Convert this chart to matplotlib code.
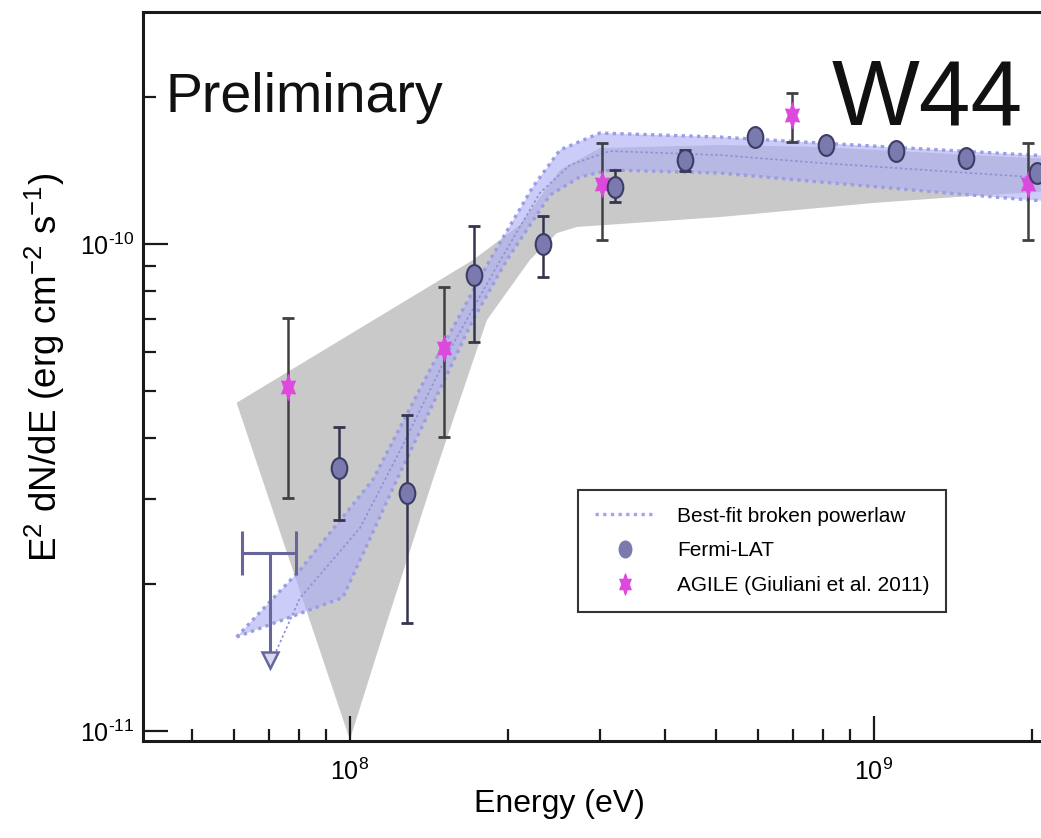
import numpy as np
import matplotlib
matplotlib.use("Agg")
import matplotlib.pyplot as plt
from matplotlib.path import Path
from matplotlib.transforms import Affine2D
from matplotlib.lines import Line2D
from matplotlib.ticker import FixedLocator, NullFormatter, FuncFormatter

# --- data (E in eV, E^2 dN/dE in erg cm^-2 s^-1) ---
fermi_e = [9.53e7, 1.285e8, 1.725e8, 2.34e8, 3.2e8, 4.36e8, 5.93e8, 8.09e8, 1.10e9, 1.50e9, 2.05e9]
fermi_f = [3.47e-11, 3.08e-11, 8.63e-11, 1.0e-10, 1.31e-10, 1.49e-10, 1.66e-10, 1.60e-10, 1.55e-10, 1.50e-10, 1.40e-10]
fermi_hi = [4.21e-11, 4.46e-11, 1.09e-10, 1.14e-10, 1.42e-10, 1.56e-10, 1.66e-10, 1.60e-10, 1.55e-10, 1.50e-10, 1.40e-10]
fermi_lo = [2.71e-11, 1.67e-11, 6.29e-11, 8.56e-11, 1.22e-10, 1.41e-10, 1.66e-10, 1.60e-10, 1.55e-10, 1.50e-10, 1.40e-10]

agile_e = [7.62e7, 1.51e8, 3.03e8, 6.98e8, 1.97e9]
agile_f = [5.08e-11, 6.11e-11, 1.33e-10, 1.84e-10, 1.33e-10]
agile_hi = [7.05e-11, 8.16e-11, 1.61e-10, 2.04e-10, 1.61e-10]
agile_lo = [3.01e-11, 4.02e-11, 1.02e-10, 1.62e-10, 1.02e-10]

# Fermi upper limit in the lowest bin
ul_e, ul_e_lo, ul_e_hi = 7.03e7, 6.22e7, 7.89e7
ul_f, ul_tip = 2.32e-11, 1.40e-11

# best-fit broken powerlaw and its band
fit_e = [7.04e7, 8.03e7, 1.045e8, 1.246e8, 1.551e8, 1.933e8, 2.305e8, 2.630e8, 3.134e8, 5.08e8, 7.89e8, 1.985e9, 2.70e9]
fit_f = [1.366e-11, 1.875e-11, 2.61e-11, 3.76e-11, 6.06e-11, 9.23e-11, 1.273e-10, 1.453e-10, 1.552e-10, 1.523e-10, 1.467e-10, 1.373e-10, 1.353e-10]
band_up_e = [6.08e7, 8.03e7, 1.106e8, 1.421e8, 1.850e8, 2.234e8, 2.517e8, 3.0e8, 5.08e8, 7.89e8, 1.985e9, 2.70e9]
band_up_f = [1.56e-11, 2.14e-11, 3.28e-11, 5.51e-11, 9.27e-11, 1.309e-10, 1.560e-10, 1.690e-10, 1.658e-10, 1.612e-10, 1.523e-10, 1.502e-10]
band_lo_e = [6.08e7, 9.70e7, 1.229e8, 1.717e8, 1.993e8, 2.408e8, 2.747e8, 3.134e8, 5.08e8, 7.89e8, 1.985e9, 2.70e9]
band_lo_f = [1.56e-11, 1.88e-11, 3.28e-11, 6.98e-11, 9.27e-11, 1.260e-10, 1.373e-10, 1.419e-10, 1.399e-10, 1.341e-10, 1.231e-10, 1.208e-10]

# grey band
grey_up_e = [6.08e7, 1.717e8, 2.110e8, 2.517e8, 3.0e8, 5.08e8, 7.89e8, 1.985e9, 2.70e9]
grey_up_f = [4.72e-11, 9.27e-11, 1.094e-10, 1.419e-10, 1.574e-10, 1.597e-10, 1.582e-10, 1.502e-10, 1.474e-10]
grey_lo_e = [1.0e8, 1.192e8, 1.440e8, 1.826e8, 2.205e8, 2.483e8, 2.712e8, 3.47e8, 5.08e8, 9.96e8, 1.440e9, 2.70e9]
grey_lo_f = [9.6e-12, 1.747e-11, 3.28e-11, 6.98e-11, 9.27e-11, 1.053e-10, 1.084e-10, 1.104e-10, 1.136e-10, 1.214e-10, 1.249e-10, 1.303e-10]

x_range = (4.03e7, 3.0e9)
y_range = (9.54e-12, 2.995e-10)
x_major = [1e8, 1e9]
y_major = [1e-11, 1e-10]
x_minor = [5e7, 6e7, 7e7, 8e7, 9e7, 2e8, 3e8, 4e8, 5e8, 6e8, 7e8, 8e8, 9e8, 2e9]
y_minor = [2e-11, 3e-11, 4e-11, 5e-11, 6e-11, 7e-11, 8e-11, 9e-11, 2e-10]

plt.rcParams["font.family"] = ["Liberation Sans", "DejaVu Sans"]
plt.rcParams["mathtext.fontset"] = "custom"
plt.rcParams["mathtext.rm"] = "Liberation Sans"
plt.rcParams["mathtext.it"] = "Liberation Sans:italic"
plt.rcParams["mathtext.bf"] = "Liberation Sans:bold"
plt.rcParams["axes.unicode_minus"] = False

# marker shapes (the picture is a bit squeezed horizontally)
ellipse = Path.unit_circle().transformed(Affine2D().scale(0.75, 1.0))
star6 = Path.unit_regular_star(6, 0.55).transformed(Affine2D().scale(0.62, 1.0))


def decade_label(v, pos):
    n = int(round(np.log10(v)))
    s = str(n).replace("-", "\u2010")
    return "$\\mathdefault{10^{%s}}$" % s


fig = plt.figure(figsize=(10.41, 8.38), dpi=100)
ax = fig.add_axes([143 / 1041, 97 / 838, 981 / 1041, 729 / 838])
ax.set_xscale("log")
ax.set_yscale("log")
ax.set_xlim(*x_range)
ax.set_ylim(*y_range)

# grey band
gx = np.concatenate([grey_up_e, grey_lo_e[::-1]])
gy = np.concatenate([grey_up_f, grey_lo_f[::-1]])
ax.fill(gx, gy, color="#c9c9c9", lw=0, zorder=1)

# blue uncertainty band with dotted borders
bx = np.concatenate([band_up_e, band_lo_e[::-1]])
by = np.concatenate([band_up_f, band_lo_f[::-1]])
ax.fill(bx, by, color="#aeaef6", alpha=0.62, lw=0, zorder=2)
ax.plot(band_up_e, band_up_f, ls=(0, (1.0, 1.3)), color="#9c9ce4", lw=2.4, zorder=3)
ax.plot(band_lo_e, band_lo_f, ls=(0, (1.0, 1.3)), color="#9c9ce4", lw=2.4, zorder=3)
ax.plot(fit_e, fit_f, ls=(0, (1.5, 1.5)), color="#9090d4", lw=1.2, zorder=3)

# upper limit
ul_col = "#66669a"
ax.errorbar([ul_e], [ul_f], xerr=[[ul_e - ul_e_lo], [ul_e_hi - ul_e]], fmt="none",
            ecolor=ul_col, elinewidth=2.2, capsize=16, capthick=2.2, zorder=4)
ax.plot([ul_e, ul_e], [ul_f, ul_tip], color=ul_col, lw=2.2, zorder=4)
ax.plot([ul_e], [ul_tip], marker="v", ms=11, mfc="#d8d8f0", mec=ul_col, mew=1.8, zorder=4)

# AGILE
a_f = np.array(agile_f)
ax.errorbar(agile_e, agile_f, yerr=[a_f - np.array(agile_lo), np.array(agile_hi) - a_f],
            fmt="none", ecolor="#404040", elinewidth=1.8, capsize=4, capthick=2, zorder=5)
ax.plot(agile_e, agile_f, ls="none", marker=star6, ms=19, mfc="#dd48dd", mec="#dd48dd", mew=0.5, zorder=6)

# Fermi-LAT
f_f = np.array(fermi_f)
ax.errorbar(fermi_e, fermi_f, yerr=[f_f - np.array(fermi_lo), np.array(fermi_hi) - f_f],
            fmt="none", ecolor="#34344e", elinewidth=1.8, capsize=4, capthick=2, zorder=5)
ax.plot(fermi_e, fermi_f, ls="none", marker=ellipse, ms=15, mfc="#7a7aae", mec="#3c3c66", mew=1.5, zorder=6)

# axes styling
for s in ax.spines.values():
    s.set_linewidth(2.2)
    s.set_color("#1a1a1a")
    s.set_zorder(8)
ax.xaxis.set_major_locator(FixedLocator(x_major))
ax.xaxis.set_minor_locator(FixedLocator(x_minor))
ax.yaxis.set_major_locator(FixedLocator(y_major))
ax.yaxis.set_minor_locator(FixedLocator(y_minor))
ax.xaxis.set_major_formatter(FuncFormatter(decade_label))
ax.yaxis.set_major_formatter(FuncFormatter(decade_label))
ax.xaxis.set_minor_formatter(NullFormatter())
ax.yaxis.set_minor_formatter(NullFormatter())
ax.tick_params(which="both", direction="in", top=False, right=False, color="#1a1a1a", width=1.6)
ax.tick_params(which="major", length=18, labelsize=18)
ax.tick_params(which="minor", length=9)
ax.tick_params(axis="x", which="major", pad=13)
ax.tick_params(axis="y", which="major", pad=6)

ax.set_xlabel("Energy (eV)", fontsize=23)
ax.xaxis.set_label_coords(0.425, -0.066)
ax.set_ylabel("E$^2$ dN/dE (erg cm$^{-2}$ s$^{-1}$)", fontsize=26.5)
ax.yaxis.set_label_coords(-0.077, 0.512)

ax.text(0.1645, 0.8628, "Preliminary", transform=ax.transAxes, fontsize=40,
        va="baseline", ha="center", color="#111111")
ax.text(0.7992, 0.845, "W44", transform=ax.transAxes, fontsize=67,
        va="baseline", ha="center", color="#111111")

handles = [
    Line2D([], [], ls=(0, (1.0, 1.3)), color="#a4a4e8", lw=2.4),
    Line2D([], [], ls="none", marker=ellipse, ms=12, mfc="#7a7aae", mec="#7a7aae"),
    Line2D([], [], ls="none", marker=star6, ms=15, mfc="#dd48dd", mec="#dd48dd"),
]
labels = ["Best-fit broken powerlaw", "Fermi-LAT", "AGILE (Giuliani et al. 2011)"]
leg = ax.legend(handles, labels, loc="upper left", bbox_to_anchor=(0.4434, 0.3443), fontsize=15,
                frameon=True, fancybox=False, framealpha=1, edgecolor="#333333",
                borderpad=0.8, labelspacing=0.75, handlelength=2.9, handletextpad=1.05,
                borderaxespad=0)
leg.get_frame().set_linewidth(1.5)
leg.set_zorder(9)

fig.savefig("out.png", dpi=100, facecolor="white")
